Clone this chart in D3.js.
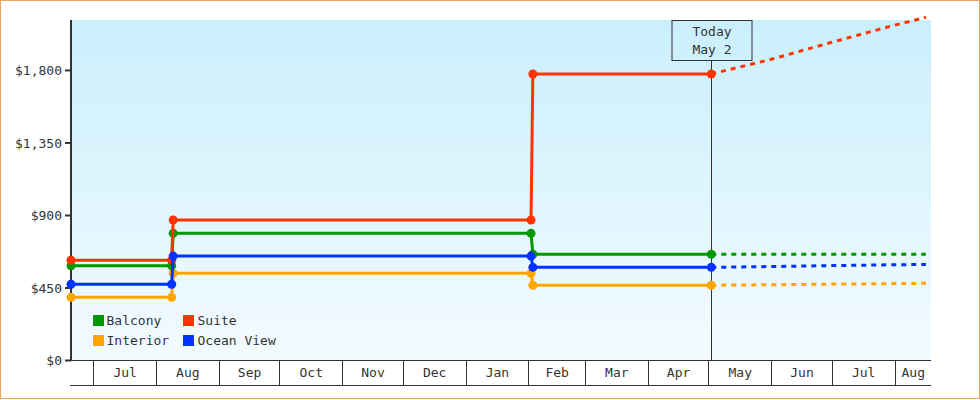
<!DOCTYPE html>
<html>
<head>
<meta charset="utf-8">
<script src="https://cdn.jsdelivr.net/npm/d3@7"></script>
<style>
  body { margin: 0; background: #fff; }
  svg text { font-family: "DejaVu Sans Mono", monospace; font-size: 13px; fill: #333; }
</style>
</head>
<body>
<div id="chart"></div>
<script>
// Cabin fare history
const seriesNames = ["Balcony", "Suite", "Interior", "Ocean View"];
const seriesColors = ["#009900", "#ff3300", "#ffa500", "#0033ff"];

const historyDates = ["2018-06-20 00:00", "2018-08-08 18:00", "2018-08-09 12:00", "2019-02-02 08:00", "2019-02-03 06:00", "2019-05-02 10:00"];
const balconyHistory = [585, 585, 786, 786, 656, 656];
const suiteHistory = [619, 619, 869, 869, 1775, 1775];
const interiorHistory = [389, 389, 538, 538, 464, 464];
const oceanViewHistory = [470, 470, 645, 645, 575, 575];

const forecastDates = ["2019-05-02 10:00", "2019-06-01 00:00", "2019-07-01 00:00", "2019-08-01 00:00", "2019-08-16 12:00"];
const balconyForecast = [656, 656, 656, 656, 656];
const suiteForecast = [1775, 1866, 1972, 2078, 2127];
const interiorForecast = [464, 467, 471, 474, 476];
const oceanViewForecast = [575, 580, 586, 591, 593];

const yTicks = [0, 450, 900, 1350, 1800];
const xStart = "2018-06-20 00:00";
const xEnd = "2019-08-19 00:00";
const today = "2019-05-02 10:00";
const todayLabel = ["Today", "May 2"];

const histories = [balconyHistory, suiteHistory, interiorHistory, oceanViewHistory];
const forecasts = [balconyForecast, suiteForecast, interiorForecast, oceanViewForecast];

const parse = d3.timeParse("%Y-%m-%d %H:%M");
const width = 980, height = 400;
const plot = { left: 71, right: 931, top: 20, bottom: 360 };

const svg = d3.select("#chart").append("svg")
  .attr("width", width)
  .attr("height", height);

// background gradient
const grad = svg.append("defs").append("linearGradient")
  .attr("id", "bg").attr("x1", 0).attr("y1", 0).attr("x2", 0).attr("y2", 1);
grad.append("stop").attr("offset", "0%").attr("stop-color", "#caeffc");
grad.append("stop").attr("offset", "100%").attr("stop-color", "#f3fbff");

// outer border
svg.append("rect")
  .attr("x", 0.5).attr("y", 0.5)
  .attr("width", 979).attr("height", 398)
  .attr("fill", "#fff")
  .attr("stroke", "#e8a862");

const x = d3.scaleTime()
  .domain([parse(xStart), parse(xEnd)])
  .range([plot.left, plot.right]);

const y = d3.scaleLinear()
  .domain([0, 2110])
  .range([plot.bottom, plot.top]);

svg.append("rect")
  .attr("x", plot.left).attr("y", plot.top)
  .attr("width", plot.right - plot.left)
  .attr("height", plot.bottom - plot.top)
  .attr("fill", "url(#bg)");

// month band under the plot
const band = svg.append("g").attr("shape-rendering", "crispEdges");
const months = d3.timeMonth.range(x.domain()[0], x.domain()[1]);
const edges = [x.domain()[0], ...months, x.domain()[1]];

band.selectAll("line.sep")
  .data(months)
  .join("line")
  .attr("class", "sep")
  .attr("x1", d => Math.round(x(d)) + 0.5)
  .attr("x2", d => Math.round(x(d)) + 0.5)
  .attr("y1", plot.bottom)
  .attr("y2", 385)
  .attr("stroke", "#333");

[plot.bottom, 385].forEach(yy => {
  band.append("line")
    .attr("x1", plot.left - 1).attr("x2", plot.right)
    .attr("y1", yy + 0.5).attr("y2", yy + 0.5)
    .attr("stroke", "#333");
});

const fmtMonth = d3.timeFormat("%b");
d3.pairs(edges).forEach(([a, b]) => {
  if (x(b) - x(a) < 30) return;
  svg.append("text")
    .attr("x", (x(a) + x(b)) / 2 + 0.5)
    .attr("y", 377)
    .attr("text-anchor", "middle")
    .text(fmtMonth(a));
});

// y axis
const yAxis = svg.append("g")
  .attr("transform", `translate(${plot.left},0)`)
  .call(d3.axisLeft(y)
    .tickValues(yTicks)
    .tickSize(6)
    .tickPadding(3)
    .tickFormat(d => "$" + d3.format(",")(d)));
yAxis.select(".domain").remove();
yAxis.selectAll(".tick line").attr("stroke", "#333").attr("stroke-width", 2);
yAxis.selectAll(".tick text")
  .attr("font-family", null).attr("font-size", null)
  .attr("dy", "0.35em");
yAxis.attr("font-family", null).attr("font-size", null);

svg.append("line")
  .attr("x1", plot.left).attr("x2", plot.left)
  .attr("y1", plot.top).attr("y2", plot.bottom + 1)
  .attr("stroke", "#333").attr("stroke-width", 2);

// today marker line
const tx = Math.round(x(parse(today))) + 0.5;
svg.append("line")
  .attr("x1", tx).attr("x2", tx)
  .attr("y1", 60).attr("y2", plot.bottom)
  .attr("stroke", "#333");

svg.append("rect")
  .attr("x", tx - 39.5).attr("y", 20.5)
  .attr("width", 80).attr("height", 40)
  .attr("fill", "none")
  .attr("stroke", "#333");

todayLabel.forEach((t, i) => {
  svg.append("text")
    .attr("x", tx + 0.5)
    .attr("y", 36 + i * 18)
    .attr("text-anchor", "middle")
    .text(t);
});

// series
const line = d3.line()
  .x(d => x(d.date))
  .y(d => y(d.value));

seriesNames.forEach((name, i) => {
  const hist = historyDates.map((d, j) => ({ date: parse(d), value: histories[i][j] }));
  const fc = forecastDates.map((d, j) => ({ date: parse(d), value: forecasts[i][j] }));
  const g = svg.append("g");

  g.append("path")
    .datum(fc)
    .attr("d", line)
    .attr("fill", "none")
    .attr("stroke", seriesColors[i])
    .attr("stroke-width", 3)
    .attr("stroke-dasharray", "5,5");

  g.append("path")
    .datum(hist)
    .attr("d", line)
    .attr("fill", "none")
    .attr("stroke", seriesColors[i])
    .attr("stroke-width", 3);

  g.selectAll("circle")
    .data(hist)
    .join("circle")
    .attr("cx", d => x(d.date))
    .attr("cy", d => y(d.value))
    .attr("r", 4.5)
    .attr("fill", seriesColors[i]);
});

// legend
const legend = svg.append("g").attr("transform", "translate(93,315)");
seriesNames.forEach((name, i) => {
  const col = i % 2, row = Math.floor(i / 2);
  const item = legend.append("g")
    .attr("transform", `translate(${col * 90},${row * 20})`);
  item.append("rect")
    .attr("width", 11).attr("height", 11)
    .attr("fill", seriesColors[i]);
  item.append("text")
    .attr("x", 13.5 + col).attr("y", 10)
    .text(name);
});
</script>
</body>
</html>
